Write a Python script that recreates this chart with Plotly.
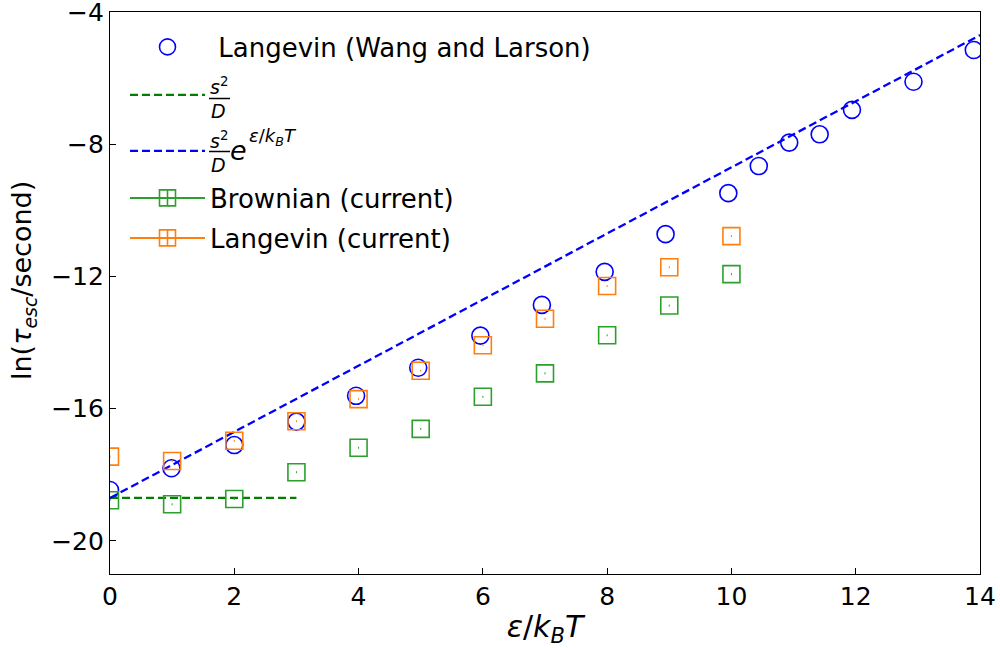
import plotly.graph_objects as go

# Langevin dynamics results of Wang and Larson
wl_eps = [0, 0.99, 2.0, 3.0, 3.96, 4.96, 5.96, 6.95, 7.96, 8.94, 9.95,
          10.44, 10.93, 11.42, 11.94, 12.93, 13.9]
wl_ln_tau = [-18.46, -17.80, -17.10, -16.39, -15.61, -14.76, -13.79, -12.86,
             -11.86, -10.72, -9.48, -8.66, -7.95, -7.70, -6.96, -6.11, -5.15]

# Current simulations
cur_eps = [0, 1, 2, 3, 4, 5, 6, 7, 8, 9, 10]
brownian_ln_tau = [-18.77, -18.89, -18.73, -17.92, -17.18, -16.61, -15.64,
                   -14.93, -13.78, -12.88, -11.93]
brownian_err = [0.03, 0.03, 0.03, 0.03, 0.03, 0.03, 0.03, 0.03, 0.03, 0.03, 0.03]
langevin_ln_tau = [-17.45, -17.58, -16.97, -16.38, -15.71, -14.85, -14.08,
                   -13.28, -12.29, -11.72, -10.78]
langevin_err = [0.03, 0.03, 0.03, 0.03, 0.03, 0.03, 0.03, 0.03, 0.03, 0.03, 0.03]

# Reference scalings: s^2/D and s^2/D * exp(eps/kT)
diff_eps = [0, 3]
diff_ln_tau = [-18.7, -18.7]
arr_eps = [0, 14]
arr_ln_tau = [-18.7, -4.7]

FONT = "DejaVu Sans"
W, H = 1000, 648
L, R, T, B = 110, 20, 12, 74
PW, PH = W - L - R, H - T - B


def px(x):
    return (x - L) / PW


def py(y):
    return (H - B - y) / PH


fig = go.Figure()

dash = "8px,4px"
blue, dgreen = "#0000ff", "#008000"
tgreen, torange = "#2ca02c", "#ff7f0e"

fig.add_trace(go.Scatter(x=wl_eps, y=wl_ln_tau, mode="markers",
                         marker=dict(symbol="circle-open", size=17, color=blue,
                                     line=dict(width=1.6, color=blue)),
                         name="\u00a0Langevin (Wang and Larson)", legend="legend"))
fig.add_trace(go.Scatter(x=diff_eps, y=diff_ln_tau, mode="lines",
                         line=dict(color=dgreen, width=2.3, dash=dash),
                         name="\u00a0", legend="legend2"))
fig.add_trace(go.Scatter(x=arr_eps, y=arr_ln_tau, mode="lines",
                         line=dict(color=blue, width=2.3, dash=dash),
                         name="\u00a0", legend="legend3"))
for yv, err, col, nm, lg in [(brownian_ln_tau, brownian_err, tgreen, "Brownian (current)", "legend4"),
                             (langevin_ln_tau, langevin_err, torange, "Langevin (current)", "legend5")]:
    fig.add_trace(go.Scatter(x=cur_eps, y=yv, mode="markers",
                             error_y=dict(type="data", array=err, color=col,
                                          thickness=1, width=0),
                             marker=dict(symbol="square-open", size=17, color=col,
                                         line=dict(width=1.6, color=col)),
                             showlegend=False))
    fig.add_trace(go.Scatter(x=[None], y=[None], mode="lines+markers",
                             line=dict(color=col, width=2),
                             marker=dict(symbol="square-cross-open", size=16, color=col,
                                         line=dict(width=1.6, color=col)),
                             name=nm, legend=lg))

legend_rows = {"legend": 47, "legend2": 95, "legend3": 151, "legend4": 198, "legend5": 238}
for key, yrow in legend_rows.items():
    fig.update_layout({key: dict(x=px(125), y=py(yrow), xanchor="left", yanchor="middle",
                                 bgcolor="rgba(0,0,0,0)", borderwidth=0, itemwidth=75,
                                 font=dict(family=FONT, size=26, color="black"))})


def label(text, x, y, size, xanchor="center", angle=0):
    return dict(text=text, x=px(x), y=py(y), xref="paper", yref="paper",
                xanchor=xanchor, yanchor="middle", showarrow=False, textangle=angle,
                font=dict(family=FONT, size=size, color="black"))


ann = []
shapes = []
# stacked s^2 / D fractions of the two scaling entries
for ynum, ybar, yden in [(86, 98.5, 111), (140, 151.5, 165)]:
    ann.append(label("<i>s</i><sup>2</sup>", 219, ynum, 19))
    ann.append(label("<i>D</i>", 218, yden, 19))
    shapes.append(dict(type="line", xref="paper", yref="paper", x0=px(209), x1=px(230),
                       y0=py(ybar), y1=py(ybar), line=dict(color="black", width=1.5)))
ann.append(label("<i>e</i>", 238, 150, 27))
ann.append(label("<i>ε</i>/<i>k</i><sub><i>B</i></sub><i>T</i>", 247, 137, 18, xanchor="left"))
# y-axis title
ann.append(label("ln(<i>τ</i><sub><i>esc</i></sub>/second)", 23, 281, 27, angle=-90))

axis_common = dict(showline=True, linecolor="black", linewidth=1.2, mirror=True,
                   ticks="inside", ticklen=6, tickwidth=1.2, tickcolor="black",
                   showgrid=False, zeroline=False, automargin=False,
                   ticklabeloverflow="allow",
                   tickfont=dict(family=FONT, size=25, color="black"))

fig.update_layout(
    width=W, height=H,
    margin=dict(l=L, r=R, t=T, b=B, autoexpand=False),
    paper_bgcolor="white", plot_bgcolor="white",
    font=dict(family=FONT, color="black"),
    annotations=ann, shapes=shapes,
    xaxis=dict(range=[0, 14], tickvals=[0, 2, 4, 6, 8, 10, 12, 14],
               title=dict(text="<i>ε</i>/<i>k</i><sub><i>B</i></sub><i>T</i>",
                          font=dict(family=FONT, size=30), standoff=8),
               **axis_common),
    yaxis=dict(range=[-21, -4], tickvals=[-20, -16, -12, -8, -4],
               **axis_common),
)

fig.write_html("out.html")
